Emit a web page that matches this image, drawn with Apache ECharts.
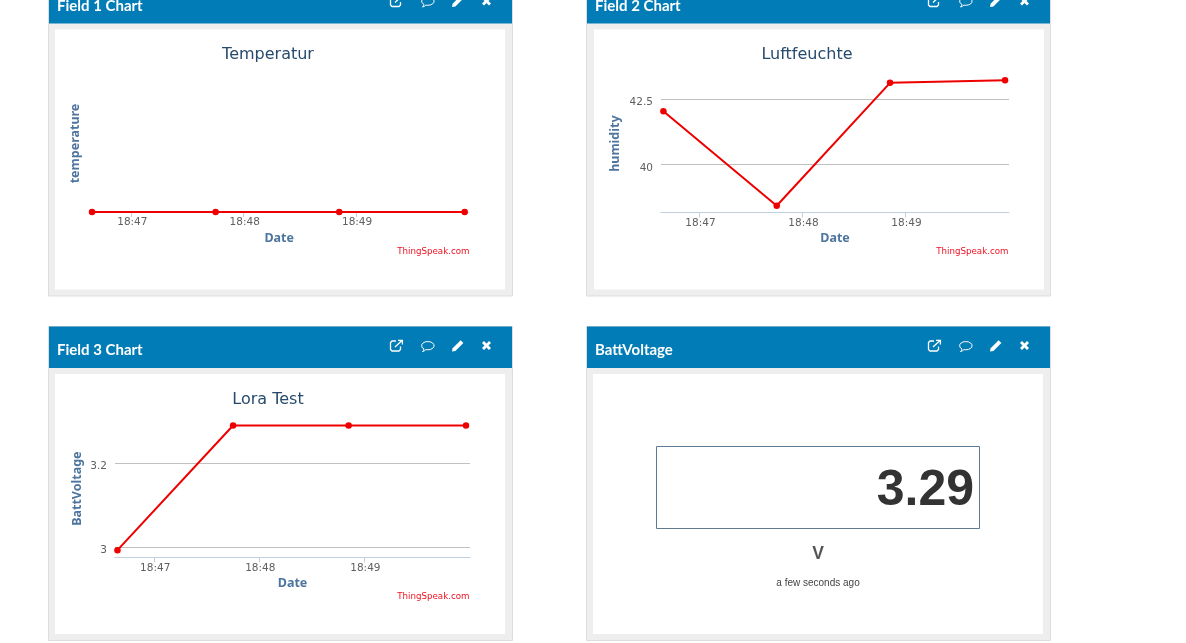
<!DOCTYPE html>
<html><head><meta charset="utf-8">
<style>html,body{margin:0;padding:0;background:#fff;overflow:hidden}#c{width:1186px;height:643px}</style>
<script src="https://cdn.jsdelivr.net/npm/echarts@6/dist/echarts.min.js"></script>
</head><body><div id="c"></div>
<script>
const sampleTimes = ['18:46:39', '18:47:45', '18:48:51', '18:49:58'];
const tickTimes = ['18:47:00', '18:48:00', '18:49:00'];
const axisStart = '18:46:37.6';
const axisEnd = '18:50:00.3';
const temperature = [0, 0, 0, 0];
const humidity = [42.03, 38.41, 43.12, 43.22];
const battVoltage = [2.993, 3.29, 3.29, 3.29];
const humidityTicks = [40, 42.5];
const voltageTicks = [3, 3.2];
const panelTitles = ['Field 1 Chart', 'Field 2 Chart', 'Field 3 Chart', 'BattVoltage'];
const chartTitles = ['Temperatur', 'Luftfeuchte', 'Lora Test'];
const yNames = ['temperature', 'humidity', 'BattVoltage'];
const lampValue = '3.29';
const lampUnit = 'V';
const lampAge = 'a few seconds ago';

const secs = s => { const p = s.split(':').map(Number); return p[0] * 3600 + p[1] * 60 + p[2]; };
const clock = v => { const m = Math.round(v / 60); return String(Math.floor(m / 60)).padStart(2, '0') + ':' + String(m % 60).padStart(2, '0'); };
const times = sampleTimes.map(secs);
const pairs = vals => times.map((t, i) => [t, vals[i]]);
const chart = echarts.init(document.getElementById('c'), null, {renderer: 'canvas'});

const RED = '#ee0000', GRID = '#c0c0c0', AXIS = '#c0d0e0', NAVY = '#274b6d', BLUE = '#4d759e', TICK = '#606060';
const FONT = '"DejaVu Sans", sans-serif';
const NAMEFONT = '"Noto Sans", sans-serif';

const layouts = [
  {left: 89.4, width: 379.6, top: 75, height: 137, min: 0, max: 1, ticks: [], gap: 13.5, vals: temperature, tx: 268, ty: 55, cr: 469.5, cy: 252},
  {left: 661, width: 348, top: 75, height: 137.3, min: 38.16, max: 43.42, ticks: humidityTicks, gap: 45.5, vals: humidity, tx: 807, ty: 55, cr: 1008.5, cy: 252},
  {left: 115, width: 355, top: 420, height: 137.3, min: 2.976, max: 3.303, ticks: voltageTicks, gap: 37.5, vals: battVoltage, tx: 268, ty: 400, cr: 469.5, cy: 597}
];
const panels = [[48.5, -18], [586.5, -18], [48.5, 326.5], [586.5, 326.5]];
const innerInset = [6.5, 7.5, 6.5, 6.5];

const graphic = [];
const bubblePoints = [[4.4, 8.6], [2.8, 9.9], [1, 10.5], [2, 9.4], [2.5, 7.9], [1.1, 7], [0.3, 5.8], [0.3, 3.6], [1.6, 2], [3.6, 0.9], [6.3, 0.6], [9, 0.9], [11.1, 2], [12.4, 3.6], [12.4, 5.8], [11.1, 7.4], [9, 8.4], [6.3, 8.8]];
const extBox = [[6, 1], [2, 1], [0.5, 2.5], [0.5, 9.5], [2, 11], [9, 11], [10.5, 9.5], [10.5, 6.5]];
const extArrow = [[5, 7], [12, 0.5]];
const extHead = [[8, 0.4], [12.4, 0.4], [12.4, 4.5]];
const penPoints = [[8.6, 0.2], [11.4, 3], [3.4, 11], [0, 11.6], [0.6, 8.2]];
const crossPoints = [[0, 2], [2, 0], [4.5, 2.5], [7, 0], [9, 2], [6.5, 4.5], [9, 7], [7, 9], [4.5, 6.5], [2, 9], [0, 7], [2.5, 4.5]];
panels.forEach(([x, y], i) => {
  graphic.push({type: 'rect', z: -10, shape: {x, y, width: 464, height: 314}, style: {fill: '#eeeeee', stroke: '#dddddd', lineWidth: 1}});
  graphic.push({type: 'rect', z: -9, shape: {x: x + 0.5, y: y, width: 463, height: 41.5}, style: {fill: '#027cb7'}});
  graphic.push({type: 'rect', z: -9, shape: {x: x + innerInset[i], y: y + 47.5, width: 450, height: 260}, style: {fill: '#ffffff'}});
  graphic.push({type: 'text', z: 5, x: x + 8.5, y: y + 24, style: {text: panelTitles[i], fill: '#fff', font: 'bold 15px Lato, sans-serif', textVerticalAlign: 'middle'}});
  const ix = x + 341.5, iy = y + 13.5;
  const line = {fill: 'none', stroke: '#fff', lineWidth: 1.3};
  [extBox, extArrow, extHead].forEach(points => graphic.push({type: 'polyline', z: 5, x: ix, y: iy, shape: {points}, style: line}));
  graphic.push({type: 'polygon', z: 5, x: ix + 31.5, y: iy + 1, shape: {points: bubblePoints}, style: {fill: 'none', stroke: '#fff', lineWidth: 1}});
  graphic.push({type: 'polygon', z: 5, x: ix + 62, y: iy, shape: {points: penPoints}, style: {fill: '#fff'}});
  graphic.push({type: 'polygon', z: 5, x: ix + 92, y: iy + 1, shape: {points: crossPoints}, style: {fill: '#fff'}});
});
layouts.forEach(l => {
  graphic.push({type: 'text', z: 5, x: l.cr, y: l.cy, style: {text: 'ThingSpeak.com', fill: '#f01020', font: '8.7px ' + FONT, textAlign: 'right', textVerticalAlign: 'middle'}});
});
graphic.push({type: 'rect', z: 1, shape: {x: 656.5, y: 446.5, width: 323, height: 82}, style: {fill: 'none', stroke: '#5f7a93', lineWidth: 1}});
graphic.push({type: 'text', z: 5, x: 974, y: 491, style: {text: lampValue, fill: '#333333', font: 'bold 50px "Liberation Sans", sans-serif', textAlign: 'right', textVerticalAlign: 'middle'}});
graphic.push({type: 'text', z: 5, x: 818, y: 554, style: {text: lampUnit, fill: '#555555', font: 'bold 17.5px "Liberation Sans", sans-serif', textAlign: 'center', textVerticalAlign: 'middle'}});
graphic.push({type: 'text', z: 5, x: 818, y: 583, style: {text: lampAge, fill: '#444444', font: '10px "Liberation Sans", sans-serif', textAlign: 'center', textVerticalAlign: 'middle'}});

const tickVals = tickTimes.map(secs);
chart.setOption({
  animation: false,
  backgroundColor: '#ffffff',
  title: layouts.map((l, i) => ({
    text: chartTitles[i], left: l.tx, top: l.ty, textAlign: 'center', textVerticalAlign: 'middle', padding: 0,
    textStyle: {color: NAVY, fontFamily: FONT, fontSize: 16, fontWeight: 'normal'}
  })),
  grid: layouts.map(l => ({left: l.left, width: l.width, top: l.top, height: l.height, containLabel: false})),
  xAxis: layouts.map((l, i) => ({
    type: 'value', gridIndex: i, min: secs(axisStart), max: secs(axisEnd), scale: true,
    name: 'Date', nameLocation: 'middle', nameGap: 26,
    nameTextStyle: {color: BLUE, fontFamily: NAMEFONT, fontSize: 12.5, fontWeight: 'bold', verticalAlign: 'middle'},
    axisLine: {show: true, onZero: false, lineStyle: {color: AXIS, width: 1}},
    axisTick: {show: true, length: 5, customValues: tickVals, lineStyle: {color: AXIS}},
    axisLabel: {show: true, margin: 5, color: TICK, fontFamily: FONT, fontSize: 10.5, customValues: tickVals, formatter: clock, padding: [0, 0, 0, 2]},
    splitLine: {show: false}
  })),
  yAxis: layouts.map((l, i) => ({
    type: 'value', gridIndex: i, min: l.min, max: l.max, scale: true,
    name: yNames[i], nameLocation: 'middle', nameGap: l.gap,
    nameTextStyle: {color: BLUE, fontFamily: NAMEFONT, fontSize: 12.5, fontWeight: 'bold', verticalAlign: 'middle'},
    axisLine: {show: false},
    axisTick: {show: false, customValues: l.ticks},
    axisLabel: {show: l.ticks.length > 0, margin: 8, color: TICK, fontFamily: FONT, fontSize: 10.5, customValues: l.ticks, formatter: v => String(v), verticalAlign: 'top', lineHeight: 7},
    splitLine: {show: l.ticks.length > 0, lineStyle: {color: GRID, width: 1}}
  })),
  series: layouts.map((l, i) => ({
    type: 'line', xAxisIndex: i, yAxisIndex: i, data: pairs(l.vals), clip: false,
    symbol: 'circle', symbolSize: 6.5, showSymbol: true,
    lineStyle: {color: RED, width: 2}, itemStyle: {color: RED},
    emphasis: {disabled: true}, silent: true
  })),
  graphic
});
</script></body></html>
